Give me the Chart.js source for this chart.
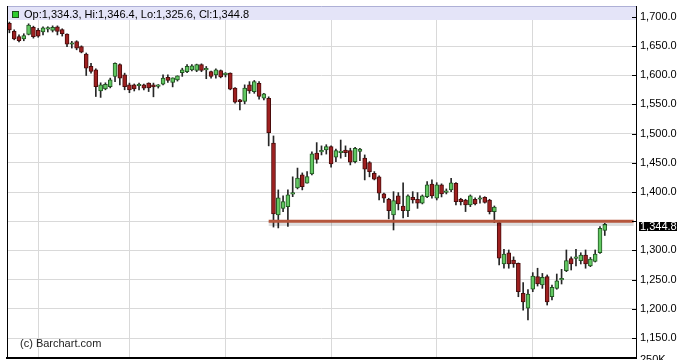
<!DOCTYPE html>
<html>
<head>
<meta charset="utf-8">
<script src="https://cdn.jsdelivr.net/npm/chart.js@4.4.1/dist/chart.umd.min.js"></script>
<style>
    html, body { margin: 0; padding: 0; background: #fff; }
    #chart { display: block; }
</style>
</head>
<body>
<canvas id="chart" width="689" height="360"></canvas>
<script>
// Daily bars, oldest first
const opens = [
    1689, 1675, 1666, 1662, 1670, 1682, 1677, 1674, 1679, 1676.5,
    1683, 1678, 1670.5, 1653, 1657.5, 1649, 1636, 1615, 1609, 1573,
    1576.5, 1580.5, 1598, 1618, 1600.6, 1583.5, 1583.5, 1582, 1583.5, 1586.5,
    1583.5, 1581, 1584.5, 1596.5, 1587.5, 1592, 1604.5, 1606, 1609, 1608,
    1618, 1609, 1606, 1600.6, 1608, 1601, 1603.5, 1578, 1558, 1555,
    1583.5, 1572, 1586, 1560.6, 1560.6, 1483.6, 1360.7, 1372, 1375, 1396.5,
    1407, 1429.3, 1415, 1431, 1466.5, 1468.7, 1472, 1477.8, 1459.6, 1467.5,
    1472, 1470.9, 1452, 1469.5, 1458, 1450.3, 1432, 1426, 1396.7, 1387.6,
    1360.7, 1393.3, 1376.1, 1368.1, 1391, 1387.6, 1380.7, 1392, 1413.8, 1389.3,
    1412.1, 1399.3, 1403.6, 1415, 1387.6, 1386.4, 1377.8, 1387.6, 1387.6, 1391,
    1386.4, 1366.5, 1347.6, 1276.8, 1296, 1283.6, 1278, 1226.5, 1201, 1233.5,
    1255, 1240.8, 1255, 1220.7, 1235, 1249.5, 1265.3, 1286, 1286.5, 1282.5,
    1292.2, 1273.3, 1281, 1296, 1334.3
];
const highs = [
    1691, 1677.7, 1669, 1671, 1688, 1684, 1680, 1683, 1683, 1684.5,
    1684.5, 1679.5, 1671, 1658, 1659, 1650.3, 1638, 1620.5, 1611, 1587,
    1587, 1595, 1621, 1619.5, 1603.5, 1586.5, 1585, 1586.5, 1585, 1587,
    1586.5, 1584, 1600.6, 1600.6, 1595.5, 1599, 1612, 1618, 1618, 1619,
    1619.5, 1615, 1607, 1611, 1609, 1604.5, 1604, 1579, 1558.5, 1583.5,
    1589, 1591, 1589, 1569, 1563, 1496, 1403.6, 1393.3, 1403.6, 1426,
    1441, 1432.7, 1435, 1469, 1484.6, 1479, 1481, 1479, 1473.5, 1489,
    1479, 1475, 1476.7, 1475, 1463.5, 1452, 1435, 1427.6, 1398, 1389.3,
    1400.6, 1399, 1415.6, 1395, 1400.6, 1399, 1395, 1417.8, 1420.7, 1416,
    1414, 1405.3, 1423.5, 1416, 1389.3, 1387.6, 1395, 1389.9, 1393.3, 1392,
    1387.6, 1376.1, 1349.3, 1302, 1300.8, 1289, 1278.5, 1245, 1233, 1262,
    1269.5, 1260.6, 1258, 1240.8, 1259.6, 1267.6, 1300.8, 1289, 1302, 1296,
    1300.8, 1288, 1300.8, 1340.7, 1346.4
];
const lows = [
    1672.6, 1660.6, 1657, 1659, 1669, 1663.5, 1665, 1669, 1674, 1674,
    1669, 1667, 1649, 1646.5, 1643.5, 1638.3, 1599.5, 1603.5, 1563.5, 1562,
    1575, 1578.3, 1589, 1583.5, 1575, 1570, 1573, 1575, 1575, 1572,
    1563, 1578, 1583.5, 1587.5, 1580, 1590, 1598, 1604.5, 1607.5, 1606,
    1606, 1594, 1595, 1595, 1595.5, 1597, 1575, 1552, 1540.6, 1551,
    1569, 1569, 1559, 1557.8, 1479, 1340, 1338.5, 1366.5, 1341, 1392,
    1405.3, 1403.6, 1415, 1429.3, 1449.3, 1463.5, 1465, 1442.5, 1452, 1458,
    1460.6, 1446.4, 1450, 1453.8, 1420.7, 1426, 1420.7, 1386.4, 1382, 1354,
    1335, 1369.3, 1355.6, 1358, 1381, 1372, 1379.6, 1390.3, 1389.3, 1386.4,
    1391.6, 1396.7, 1400.6, 1377.8, 1377.8, 1366.5, 1375, 1378, 1381, 1381,
    1362.4, 1347.6, 1275, 1269.5, 1269.5, 1271, 1220.7, 1197.9, 1180.8, 1229.3,
    1239, 1235, 1206.5, 1215.1, 1233.5, 1242.5, 1263.6, 1266.5, 1273.3, 1276.8,
    1269.5, 1272.2, 1280.2, 1295, 1325.6
];
const closes = [
    1677.7, 1662.3, 1659, 1668, 1686, 1666, 1667, 1681, 1680, 1682,
    1675, 1671, 1653, 1654, 1646.5, 1639.5, 1612, 1606.5, 1580.5, 1583.5,
    1584.5, 1592, 1620.5, 1595, 1580.5, 1575, 1576.5, 1583, 1578, 1578.3,
    1580, 1582.5, 1595, 1591, 1595.5, 1599, 1609, 1615, 1616, 1618,
    1608, 1610, 1598, 1609, 1597, 1602.3, 1576, 1554, 1554.5, 1578,
    1573, 1589, 1563.5, 1568, 1501.8, 1362.4, 1389.9, 1383.5, 1395, 1398,
    1424, 1409.3, 1426.5, 1465.2, 1456, 1469.5, 1477.8, 1448, 1471, 1468.7,
    1467.5, 1451, 1475, 1473.5, 1439, 1435, 1422, 1398, 1389.3, 1368,
    1385.2, 1379.6, 1368, 1393.3, 1386.4, 1380.7, 1393.3, 1412.1, 1393.3, 1412.1,
    1396.7, 1400.6, 1415.9, 1383.5, 1383.5, 1377.8, 1393.3, 1379.6, 1388.8, 1382,
    1366.5, 1374, 1286.6, 1293.9, 1276.8, 1276.8, 1229.3, 1212, 1225.4, 1256.2,
    1242.5, 1254, 1212, 1237, 1248, 1250.5, 1282.5, 1276.8, 1287.6, 1292.2,
    1276.8, 1285.3, 1293.9, 1338, 1344.8
];

// Trading calendar: first bar, exchange holidays, empty slots after the last bar
const firstDay = '2013-01-24';
const holidays = ['2013-02-18', '2013-03-29', '2013-05-27', '2013-07-04'];
const emptyDays = 6;

const yTicks = [1150, 1200, 1250, 1300, 1350, 1400, 1450, 1500, 1550, 1600, 1650, 1700];
const hiddenTickLabels = [1350];   // covered by the last price box
const yMin = 1115.8;
const yMax = 1718.5;

// Horizontal support line drawn on the chart
const supportLevel = 1350;
const supportFrom = 54;

// Build the category list (trading days only)
const categories = [];
const day = new Date(firstDay + 'T00:00:00Z');
while (categories.length < opens.length + emptyDays) {
    const iso = day.toISOString().slice(0, 10);
    const wd = day.getUTCDay();
    if (wd !== 0 && wd !== 6 && !holidays.includes(iso)) categories.push(iso);
    day.setUTCDate(day.getUTCDate() + 1);
}
// vertical grid line on the first session of each month
const monthStarts = categories
    .map((d, i) => (i > 0 && d.slice(5, 7) !== categories[i - 1].slice(5, 7)) ? i : -1)
    .filter(i => i >= 0);

const fmt = v => v.toLocaleString('en-US', { minimumFractionDigits: 1, maximumFractionDigits: 1 });
const isUp = i => closes[i] >= opens[i];

const FONT = '"Liberation Sans", Arial, sans-serif';
Chart.defaults.font.family = FONT;
Chart.defaults.font.size = 11;
Chart.defaults.color = '#000';

// Quote strip, frame, inward ticks, last price box and footer texts
const overlayPlugin = {
    id: 'overlay',
    afterDraw(chart) {
        const { ctx, chartArea: a } = chart;
        const y = chart.scales.y;
        const last = opens.length - 1;
        ctx.save();

        // quote strip at the top of the pane
        ctx.fillStyle = '#e4e4f8';
        ctx.fillRect(a.left + 1, a.top, a.right - a.left - 1, 14);
        ctx.strokeStyle = '#aeb0d6';
        ctx.lineWidth = 1;
        ctx.beginPath();
        ctx.moveTo(a.left, a.top + 0.5);
        ctx.lineTo(a.right, a.top + 0.5);
        ctx.stroke();

        ctx.fillStyle = isUp(last) ? '#2fcc2f' : '#b22222';
        ctx.fillRect(12, a.top + 5, 7, 7);
        ctx.strokeStyle = '#1c4f1c';
        ctx.strokeRect(12.5, a.top + 5.5, 6, 6);

        ctx.fillStyle = '#000';
        ctx.font = '11px ' + FONT;
        ctx.textBaseline = 'alphabetic';
        ctx.fillText('Op:' + fmt(opens[last]) + ', Hi:' + fmt(highs[last]) +
            ', Lo:' + fmt(lows[last]) + ', Cl:' + fmt(closes[last]), 24, a.top + 12);

        // left frame line
        ctx.strokeStyle = '#000';
        ctx.beginPath();
        ctx.moveTo(a.left + 0.5, a.top);
        ctx.lineTo(a.left + 0.5, a.bottom);
        ctx.stroke();

        // short tick marks pointing into the plot
        yTicks.forEach(v => {
            const py = Math.round(y.getPixelForValue(v)) + 0.5;
            ctx.beginPath();
            ctx.moveTo(a.right - 4, py);
            ctx.lineTo(a.right, py);
            ctx.stroke();
        });

        // last price box on the axis
        const lp = y.getPixelForValue(closes[last]);
        ctx.fillStyle = '#000';
        ctx.fillRect(a.right + 3, Math.round(lp) - 2, 38, 9);
        ctx.fillStyle = '#fff';
        ctx.fillText(fmt(closes[last]), a.right + 4, Math.round(lp) + 6);

        // footer
        ctx.fillStyle = '#222';
        ctx.fillText('(c) Barchart.com', 20, 347);
        ctx.fillStyle = '#000';
        ctx.fillText('250K', a.right + 4, 363);
        ctx.restore();
    }
};

new Chart(document.getElementById('chart'), {
    type: 'bar',
    data: {
        labels: categories,
        datasets: [
            {
                type: 'line',
                label: 'Support',
                data: [
                    { x: categories[supportFrom], y: supportLevel },
                    { x: categories[categories.length - 1], y: supportLevel }
                ],
                borderColor: '#b5563c',
                borderWidth: 3,
                pointRadius: 0,
                order: 0
            },
            {
                type: 'line',
                label: 'Support shadow',
                data: [
                    { x: categories[supportFrom], y: supportLevel - 4 },
                    { x: categories[categories.length - 1], y: supportLevel - 4 }
                ],
                borderColor: 'rgba(0, 0, 0, 0.13)',
                borderWidth: 5,
                pointRadius: 0,
                order: 1
            },
            {
                label: 'Body',
                data: opens.map((o, i) => [o, closes[i]]),
                grouped: false,
                barThickness: 4,
                minBarLength: 1.5,
                borderWidth: 1,
                borderSkipped: false,
                backgroundColor: ctx => isUp(ctx.dataIndex) ? '#62c862' : '#9e2020',
                borderColor: ctx => isUp(ctx.dataIndex) ? '#215521' : '#4a0c0c',
                order: 2
            },
            {
                label: 'Wick',
                data: lows.map((l, i) => [l, highs[i]]),
                grouped: false,
                barThickness: 1,
                borderWidth: 0,
                backgroundColor: '#262626',
                order: 3
            }
        ]
    },
    options: {
        responsive: false,
        animation: false,
        events: [],
        layout: { padding: { left: 7, top: 6, right: 0, bottom: 2 } },
        plugins: {
            legend: { display: false },
            tooltip: { enabled: false }
        },
        scales: {
            x: {
                type: 'category',
                offset: true,
                grid: {
                    offset: false,
                    drawTicks: false,
                    color: ctx => monthStarts.includes(ctx.index) ? '#d9d9d9' : 'rgba(0,0,0,0)'
                },
                border: { color: '#000', width: 2 },
                ticks: { display: false, autoSkip: false },
                afterFit(scale) {
                    scale.height = 0;
                    scale.paddingLeft = 0;
                    scale.paddingRight = 0;
                }
            },
            y: {
                position: 'right',
                min: yMin,
                max: yMax,
                grid: { color: '#d9d9d9', drawTicks: false },
                border: { color: '#000', width: 1 },
                ticks: {
                    padding: 4,
                    color: '#000',
                    font: { size: 11 },
                    callback: v => hiddenTickLabels.includes(v) ? '' : fmt(v)
                },
                afterBuildTicks(scale) {
                    scale.ticks = yTicks.map(v => ({ value: v }));
                },
                afterFit(scale) {
                    scale.width = 53;
                    scale.paddingTop = 0;
                    scale.paddingBottom = 0;
                }
            }
        }
    },
    plugins: [overlayPlugin]
});
</script>
</body>
</html>
